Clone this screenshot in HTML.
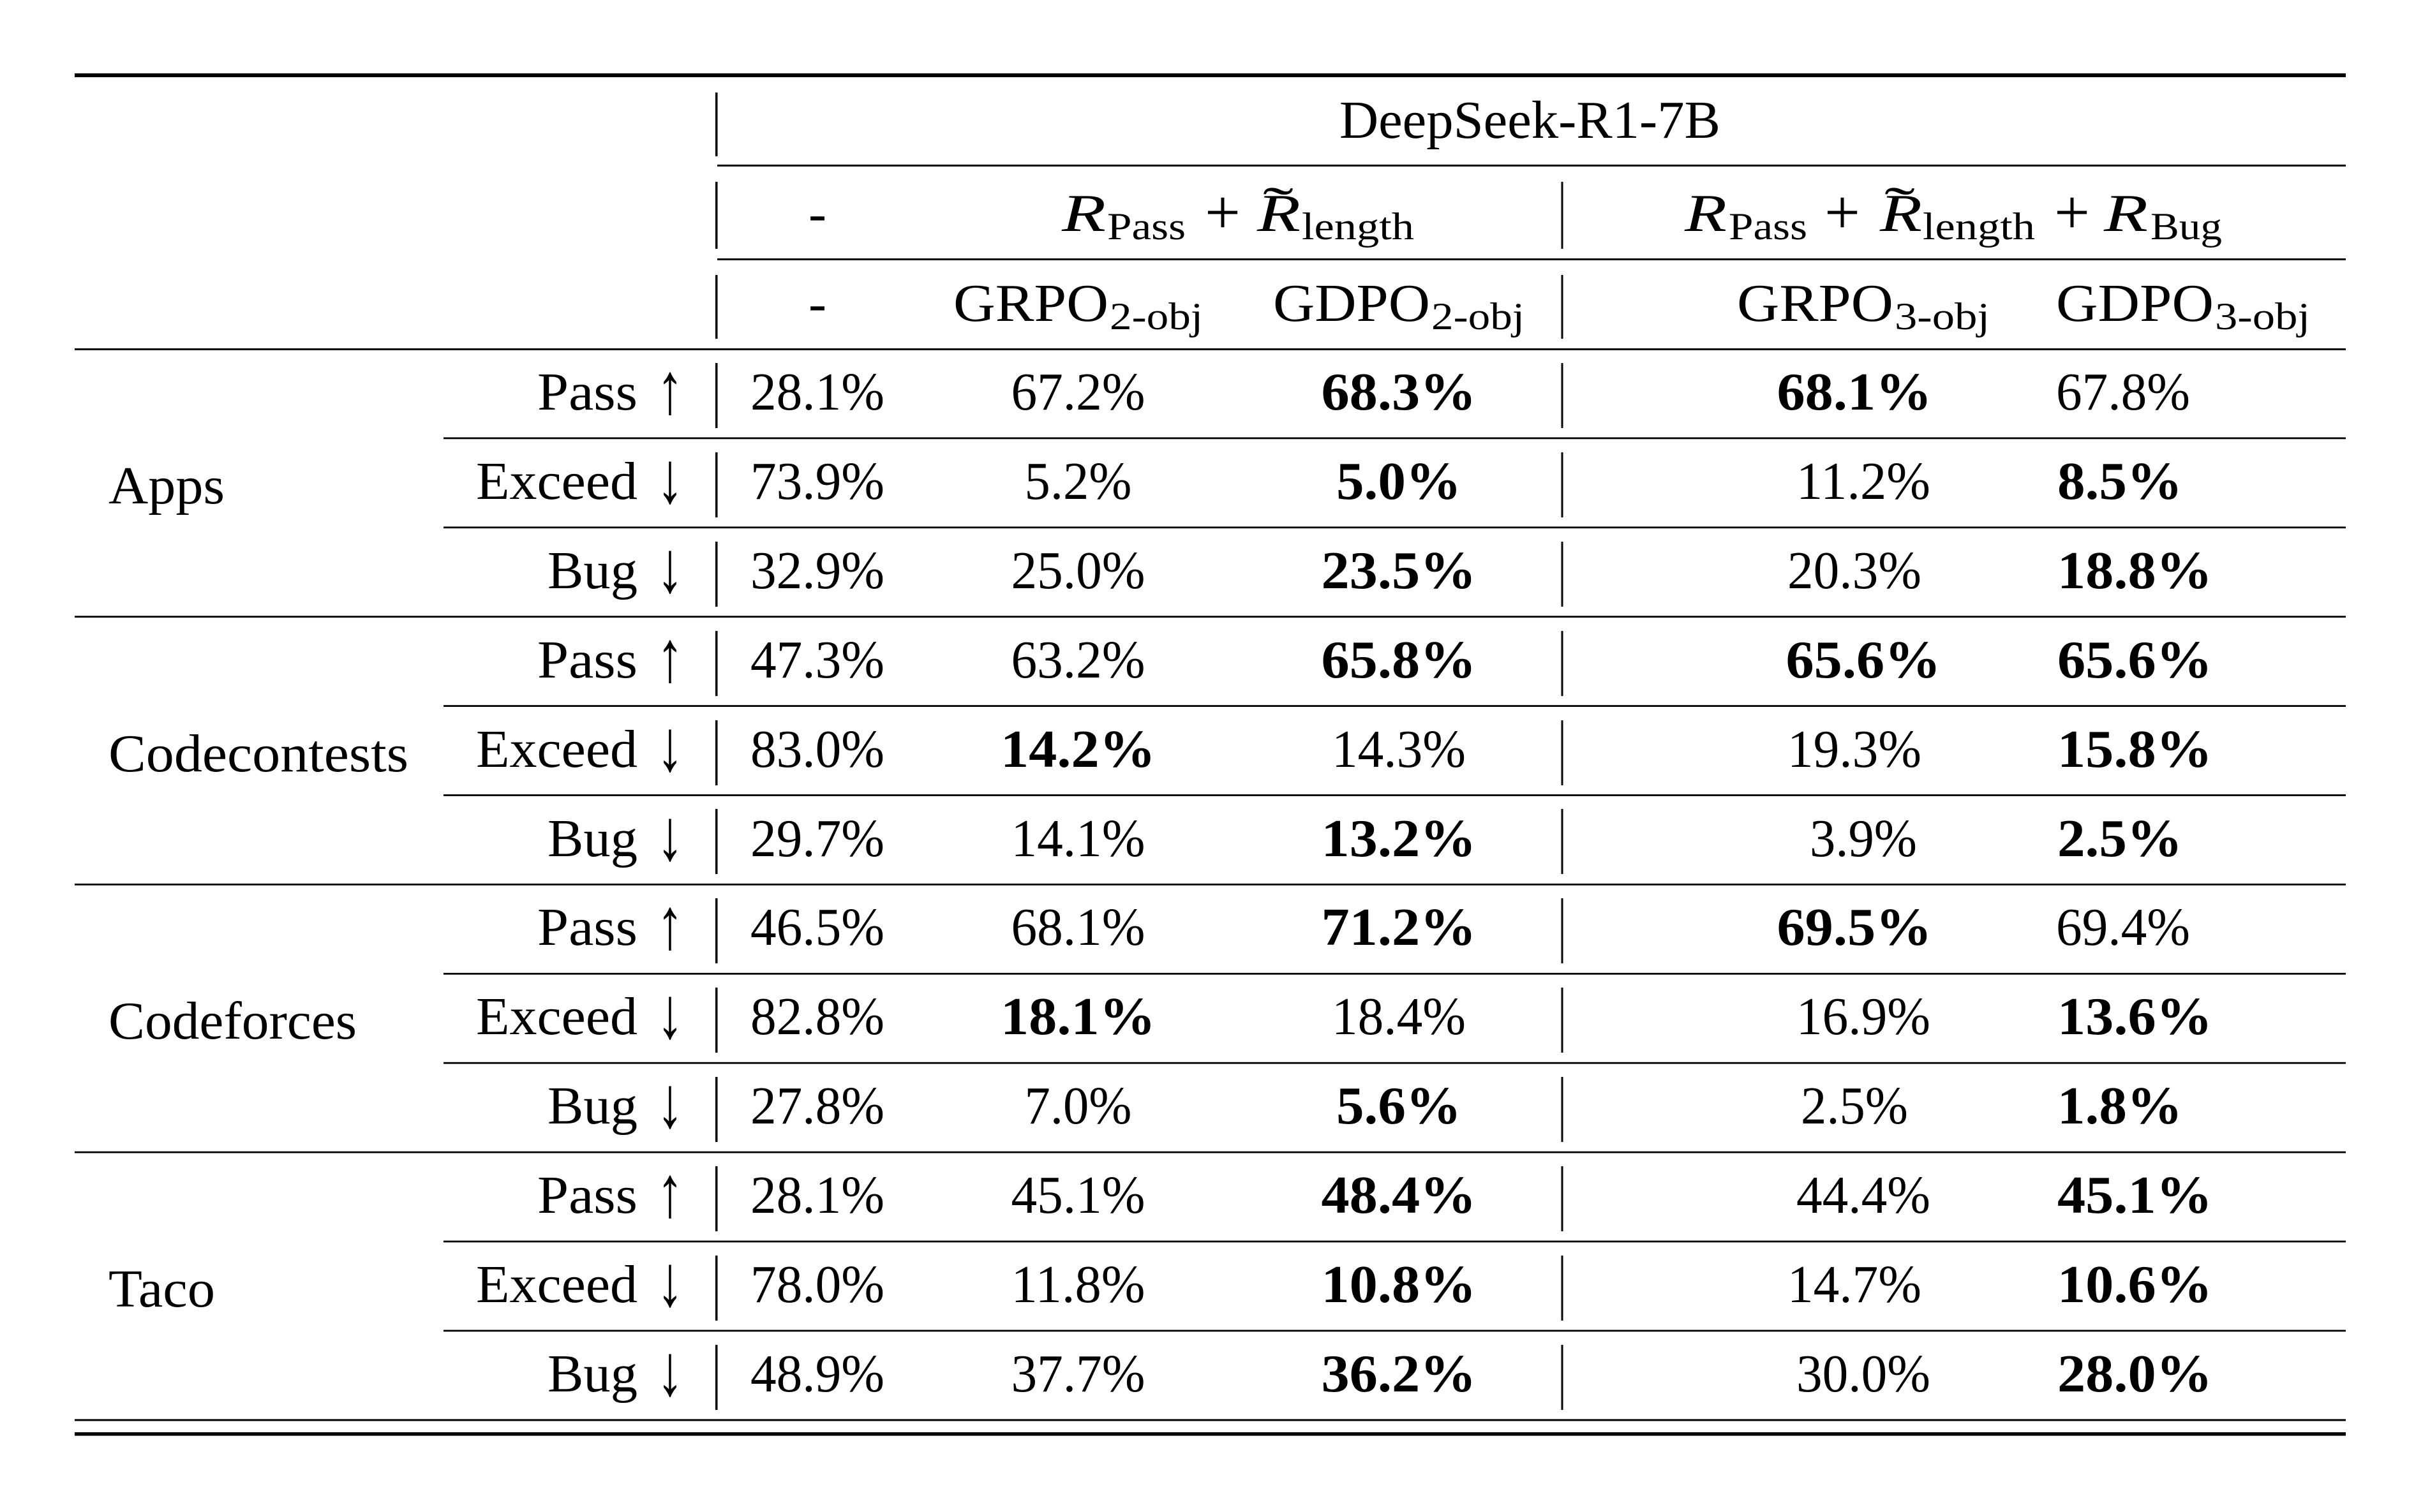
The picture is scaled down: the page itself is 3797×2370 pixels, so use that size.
<!DOCTYPE html>
<html>
<head>
<meta charset="utf-8">
<style>
html,body{margin:0;padding:0;background:#fff;}
svg{display:block;}
text{font-family:"Liberation Serif","DejaVu Serif",serif;fill:#000;}
.b{font-weight:bold;}
.s{font-size:60px;}
.i{font-style:italic;}
.a{font-size:114px;}
</style>
</head>
<body>
<svg width="3797" height="2370" viewBox="0 0 3797 2370" xmlns="http://www.w3.org/2000/svg">
<rect x="0" y="0" width="3797" height="2370" fill="#fff"/>
<!-- horizontal rules -->
<g fill="#000">
<rect x="117" y="115" width="3559" height="6"/>
<rect x="1124" y="258" width="2552" height="3"/>
<rect x="1124" y="405" width="2552" height="3"/>
<rect x="117" y="546" width="3559" height="3"/>
<rect x="695" y="685.5" width="2981" height="2.8"/>
<rect x="695" y="825.4" width="2981" height="2.8"/>
<rect x="117" y="965.3" width="3559" height="2.8"/>
<rect x="695" y="1105.2" width="2981" height="2.8"/>
<rect x="695" y="1245.1" width="2981" height="2.8"/>
<rect x="117" y="1385" width="3559" height="2.8"/>
<rect x="695" y="1524.9" width="2981" height="2.8"/>
<rect x="695" y="1664.8" width="2981" height="2.8"/>
<rect x="117" y="1804.7" width="3559" height="2.8"/>
<rect x="695" y="1944.6" width="2981" height="2.8"/>
<rect x="695" y="2084.5" width="2981" height="2.8"/>
<rect x="117" y="2224.4" width="3559" height="3"/>
<rect x="117" y="2245" width="3559" height="5.5"/>
</g>
<!-- vertical bars -->
<g fill="#000">
<rect x="1121" y="145" width="3.5" height="100"/>
<rect x="1121" y="285" width="3.5" height="105"/>
<rect x="2446.5" y="285" width="3" height="105"/>
<rect x="1121" y="431" width="3.5" height="100"/>
<rect x="2446.5" y="431" width="3" height="100"/>

<rect x="1121" y="569" width="3.5" height="102"/>
<rect x="2446.5" y="569" width="3" height="102"/>
<rect x="1121" y="709" width="3.5" height="102"/>
<rect x="2446.5" y="709" width="3" height="102"/>
<rect x="1121" y="849" width="3.5" height="102"/>
<rect x="2446.5" y="849" width="3" height="102"/>
<rect x="1121" y="989" width="3.5" height="102"/>
<rect x="2446.5" y="989" width="3" height="102"/>
<rect x="1121" y="1129" width="3.5" height="102"/>
<rect x="2446.5" y="1129" width="3" height="102"/>
<rect x="1121" y="1268" width="3.5" height="102"/>
<rect x="2446.5" y="1268" width="3" height="102"/>
<rect x="1121" y="1408" width="3.5" height="102"/>
<rect x="2446.5" y="1408" width="3" height="102"/>
<rect x="1121" y="1548" width="3.5" height="102"/>
<rect x="2446.5" y="1548" width="3" height="102"/>
<rect x="1121" y="1688" width="3.5" height="102"/>
<rect x="2446.5" y="1688" width="3" height="102"/>
<rect x="1121" y="1828" width="3.5" height="102"/>
<rect x="2446.5" y="1828" width="3" height="102"/>
<rect x="1121" y="1968" width="3.5" height="102"/>
<rect x="2446.5" y="1968" width="3" height="102"/>
<rect x="1121" y="2108" width="3.5" height="102"/>
<rect x="2446.5" y="2108" width="3" height="102"/>
</g>

<g font-size="84">
<!-- header row 1 -->
<text x="2099" y="216" textLength="597" lengthAdjust="spacingAndGlyphs">DeepSeek-R1-7B</text>

<!-- header row 2 -->
<text x="1267" y="362" textLength="28" lengthAdjust="spacingAndGlyphs">-</text>
<text class="i" x="1664" y="362" textLength="69" lengthAdjust="spacingAndGlyphs">R</text>
<text class="s" x="1735" y="375" textLength="123" lengthAdjust="spacingAndGlyphs">Pass</text>
<text x="1888" y="366" font-size="100" textLength="56" lengthAdjust="spacingAndGlyphs">+</text>
<text x="1979" y="351" textLength="48" lengthAdjust="spacingAndGlyphs">˜</text>
<text class="i" x="1970" y="362" textLength="68" lengthAdjust="spacingAndGlyphs">R</text>
<text class="s" x="2040" y="375" textLength="176" lengthAdjust="spacingAndGlyphs">length</text>

<text class="i" x="2640" y="362" textLength="66" lengthAdjust="spacingAndGlyphs">R</text>
<text class="s" x="2709" y="375" textLength="123" lengthAdjust="spacingAndGlyphs">Pass</text>
<text x="2859" y="366" font-size="100" textLength="56" lengthAdjust="spacingAndGlyphs">+</text>
<text x="2953" y="351" textLength="48" lengthAdjust="spacingAndGlyphs">˜</text>
<text class="i" x="2946" y="362" textLength="66" lengthAdjust="spacingAndGlyphs">R</text>
<text class="s" x="3013" y="375" textLength="176" lengthAdjust="spacingAndGlyphs">length</text>
<text x="3219" y="366" font-size="100" textLength="56" lengthAdjust="spacingAndGlyphs">+</text>
<text class="i" x="3297" y="362" textLength="69" lengthAdjust="spacingAndGlyphs">R</text>
<text class="s" x="3370" y="375" textLength="112" lengthAdjust="spacingAndGlyphs">Bug</text>

<!-- header row 3 -->
<text x="1267" y="503" textLength="28" lengthAdjust="spacingAndGlyphs">-</text>
<text x="1494" y="503" textLength="243" lengthAdjust="spacingAndGlyphs">GRPO</text>
<text class="s" x="1739" y="516" textLength="146" lengthAdjust="spacingAndGlyphs">2-obj</text>
<text x="1995" y="503" textLength="246" lengthAdjust="spacingAndGlyphs">GDPO</text>
<text class="s" x="2243" y="516" textLength="146" lengthAdjust="spacingAndGlyphs">2-obj</text>
<text x="2722" y="503" textLength="245" lengthAdjust="spacingAndGlyphs">GRPO</text>
<text class="s" x="2969" y="516" textLength="149" lengthAdjust="spacingAndGlyphs">3-obj</text>
<text x="3222" y="503" textLength="247" lengthAdjust="spacingAndGlyphs">GDPO</text>
<text class="s" x="3471" y="516" textLength="149" lengthAdjust="spacingAndGlyphs">3-obj</text>

<!-- group labels -->
<text x="170" y="789" textLength="182" lengthAdjust="spacingAndGlyphs">Apps</text>
<text x="170" y="1209" textLength="470" lengthAdjust="spacingAndGlyphs">Codecontests</text>
<text x="170" y="1628" textLength="389" lengthAdjust="spacingAndGlyphs">Codeforces</text>
<text x="170" y="2048" textLength="167" lengthAdjust="spacingAndGlyphs">Taco</text>

<!-- row labels -->
<text x="842" y="642" textLength="157" lengthAdjust="spacingAndGlyphs">Pass</text>
<text class="a" x="1029" y="647.5" textLength="42" lengthAdjust="spacingAndGlyphs">↑</text>
<text x="746" y="782" textLength="253" lengthAdjust="spacingAndGlyphs">Exceed</text>
<text class="a" x="1029" y="787.5" textLength="42" lengthAdjust="spacingAndGlyphs">↓</text>
<text x="858" y="922" textLength="141" lengthAdjust="spacingAndGlyphs">Bug</text>
<text class="a" x="1029" y="927.5" textLength="42" lengthAdjust="spacingAndGlyphs">↓</text>

<text x="842" y="1062" textLength="157" lengthAdjust="spacingAndGlyphs">Pass</text>
<text class="a" x="1029" y="1067.5" textLength="42" lengthAdjust="spacingAndGlyphs">↑</text>
<text x="746" y="1202" textLength="253" lengthAdjust="spacingAndGlyphs">Exceed</text>
<text class="a" x="1029" y="1207.5" textLength="42" lengthAdjust="spacingAndGlyphs">↓</text>
<text x="858" y="1342" textLength="141" lengthAdjust="spacingAndGlyphs">Bug</text>
<text class="a" x="1029" y="1347.5" textLength="42" lengthAdjust="spacingAndGlyphs">↓</text>

<text x="842" y="1481" textLength="157" lengthAdjust="spacingAndGlyphs">Pass</text>
<text class="a" x="1029" y="1486.5" textLength="42" lengthAdjust="spacingAndGlyphs">↑</text>
<text x="746" y="1621" textLength="253" lengthAdjust="spacingAndGlyphs">Exceed</text>
<text class="a" x="1029" y="1626.5" textLength="42" lengthAdjust="spacingAndGlyphs">↓</text>
<text x="858" y="1761" textLength="141" lengthAdjust="spacingAndGlyphs">Bug</text>
<text class="a" x="1029" y="1766.5" textLength="42" lengthAdjust="spacingAndGlyphs">↓</text>

<text x="842" y="1901" textLength="157" lengthAdjust="spacingAndGlyphs">Pass</text>
<text class="a" x="1029" y="1906.5" textLength="42" lengthAdjust="spacingAndGlyphs">↑</text>
<text x="746" y="2041" textLength="253" lengthAdjust="spacingAndGlyphs">Exceed</text>
<text class="a" x="1029" y="2046.5" textLength="42" lengthAdjust="spacingAndGlyphs">↓</text>
<text x="858" y="2181" textLength="141" lengthAdjust="spacingAndGlyphs">Bug</text>
<text class="a" x="1029" y="2186.5" textLength="42" lengthAdjust="spacingAndGlyphs">↓</text>

<!-- data: Apps -->
<text x="1176" y="642" textLength="210" lengthAdjust="spacingAndGlyphs">28.1%</text>
<text x="1584.5" y="642" textLength="210" lengthAdjust="spacingAndGlyphs">67.2%</text>
<text class="b" x="2070.5" y="642" textLength="243" lengthAdjust="spacingAndGlyphs">68.3%</text>
<text class="b" x="2784.5" y="642" textLength="243" lengthAdjust="spacingAndGlyphs">68.1%</text>
<text x="3222" y="642" textLength="210" lengthAdjust="spacingAndGlyphs">67.8%</text>

<text x="1176" y="782" textLength="210" lengthAdjust="spacingAndGlyphs">73.9%</text>
<text x="1605.5" y="782" textLength="168" lengthAdjust="spacingAndGlyphs">5.2%</text>
<text class="b" x="2094" y="782" textLength="196" lengthAdjust="spacingAndGlyphs">5.0%</text>
<text x="2815" y="782" textLength="210" lengthAdjust="spacingAndGlyphs">11.2%</text>
<text class="b" x="3224" y="782" textLength="196" lengthAdjust="spacingAndGlyphs">8.5%</text>

<text x="1176" y="922" textLength="210" lengthAdjust="spacingAndGlyphs">32.9%</text>
<text x="1584.5" y="922" textLength="210" lengthAdjust="spacingAndGlyphs">25.0%</text>
<text class="b" x="2070.5" y="922" textLength="243" lengthAdjust="spacingAndGlyphs">23.5%</text>
<text x="2801" y="922" textLength="210" lengthAdjust="spacingAndGlyphs">20.3%</text>
<text class="b" x="3224" y="922" textLength="243" lengthAdjust="spacingAndGlyphs">18.8%</text>

<!-- Codecontests -->
<text x="1176" y="1062" textLength="210" lengthAdjust="spacingAndGlyphs">47.3%</text>
<text x="1584.5" y="1062" textLength="210" lengthAdjust="spacingAndGlyphs">63.2%</text>
<text class="b" x="2070.5" y="1062" textLength="243" lengthAdjust="spacingAndGlyphs">65.8%</text>
<text class="b" x="2798.5" y="1062" textLength="243" lengthAdjust="spacingAndGlyphs">65.6%</text>
<text class="b" x="3224" y="1062" textLength="243" lengthAdjust="spacingAndGlyphs">65.6%</text>

<text x="1176" y="1202" textLength="210" lengthAdjust="spacingAndGlyphs">83.0%</text>
<text class="b" x="1568" y="1202" textLength="243" lengthAdjust="spacingAndGlyphs">14.2%</text>
<text x="2087" y="1202" textLength="210" lengthAdjust="spacingAndGlyphs">14.3%</text>
<text x="2801" y="1202" textLength="210" lengthAdjust="spacingAndGlyphs">19.3%</text>
<text class="b" x="3224" y="1202" textLength="243" lengthAdjust="spacingAndGlyphs">15.8%</text>

<text x="1176" y="1342" textLength="210" lengthAdjust="spacingAndGlyphs">29.7%</text>
<text x="1584.5" y="1342" textLength="210" lengthAdjust="spacingAndGlyphs">14.1%</text>
<text class="b" x="2070.5" y="1342" textLength="243" lengthAdjust="spacingAndGlyphs">13.2%</text>
<text x="2836" y="1342" textLength="168" lengthAdjust="spacingAndGlyphs">3.9%</text>
<text class="b" x="3224" y="1342" textLength="196" lengthAdjust="spacingAndGlyphs">2.5%</text>

<!-- Codeforces -->
<text x="1176" y="1481" textLength="210" lengthAdjust="spacingAndGlyphs">46.5%</text>
<text x="1584.5" y="1481" textLength="210" lengthAdjust="spacingAndGlyphs">68.1%</text>
<text class="b" x="2070.5" y="1481" textLength="243" lengthAdjust="spacingAndGlyphs">71.2%</text>
<text class="b" x="2784.5" y="1481" textLength="243" lengthAdjust="spacingAndGlyphs">69.5%</text>
<text x="3222" y="1481" textLength="210" lengthAdjust="spacingAndGlyphs">69.4%</text>

<text x="1176" y="1621" textLength="210" lengthAdjust="spacingAndGlyphs">82.8%</text>
<text class="b" x="1568" y="1621" textLength="243" lengthAdjust="spacingAndGlyphs">18.1%</text>
<text x="2087" y="1621" textLength="210" lengthAdjust="spacingAndGlyphs">18.4%</text>
<text x="2815" y="1621" textLength="210" lengthAdjust="spacingAndGlyphs">16.9%</text>
<text class="b" x="3224" y="1621" textLength="243" lengthAdjust="spacingAndGlyphs">13.6%</text>

<text x="1176" y="1761" textLength="210" lengthAdjust="spacingAndGlyphs">27.8%</text>
<text x="1605.5" y="1761" textLength="168" lengthAdjust="spacingAndGlyphs">7.0%</text>
<text class="b" x="2094" y="1761" textLength="196" lengthAdjust="spacingAndGlyphs">5.6%</text>
<text x="2822" y="1761" textLength="168" lengthAdjust="spacingAndGlyphs">2.5%</text>
<text class="b" x="3224" y="1761" textLength="196" lengthAdjust="spacingAndGlyphs">1.8%</text>

<!-- Taco -->
<text x="1176" y="1901" textLength="210" lengthAdjust="spacingAndGlyphs">28.1%</text>
<text x="1584.5" y="1901" textLength="210" lengthAdjust="spacingAndGlyphs">45.1%</text>
<text class="b" x="2070.5" y="1901" textLength="243" lengthAdjust="spacingAndGlyphs">48.4%</text>
<text x="2815" y="1901" textLength="210" lengthAdjust="spacingAndGlyphs">44.4%</text>
<text class="b" x="3224" y="1901" textLength="243" lengthAdjust="spacingAndGlyphs">45.1%</text>

<text x="1176" y="2041" textLength="210" lengthAdjust="spacingAndGlyphs">78.0%</text>
<text x="1584.5" y="2041" textLength="210" lengthAdjust="spacingAndGlyphs">11.8%</text>
<text class="b" x="2070.5" y="2041" textLength="243" lengthAdjust="spacingAndGlyphs">10.8%</text>
<text x="2801" y="2041" textLength="210" lengthAdjust="spacingAndGlyphs">14.7%</text>
<text class="b" x="3224" y="2041" textLength="243" lengthAdjust="spacingAndGlyphs">10.6%</text>

<text x="1176" y="2181" textLength="210" lengthAdjust="spacingAndGlyphs">48.9%</text>
<text x="1584.5" y="2181" textLength="210" lengthAdjust="spacingAndGlyphs">37.7%</text>
<text class="b" x="2070.5" y="2181" textLength="243" lengthAdjust="spacingAndGlyphs">36.2%</text>
<text x="2815" y="2181" textLength="210" lengthAdjust="spacingAndGlyphs">30.0%</text>
<text class="b" x="3224" y="2181" textLength="243" lengthAdjust="spacingAndGlyphs">28.0%</text>
</g>
</svg>
</body>
</html>
